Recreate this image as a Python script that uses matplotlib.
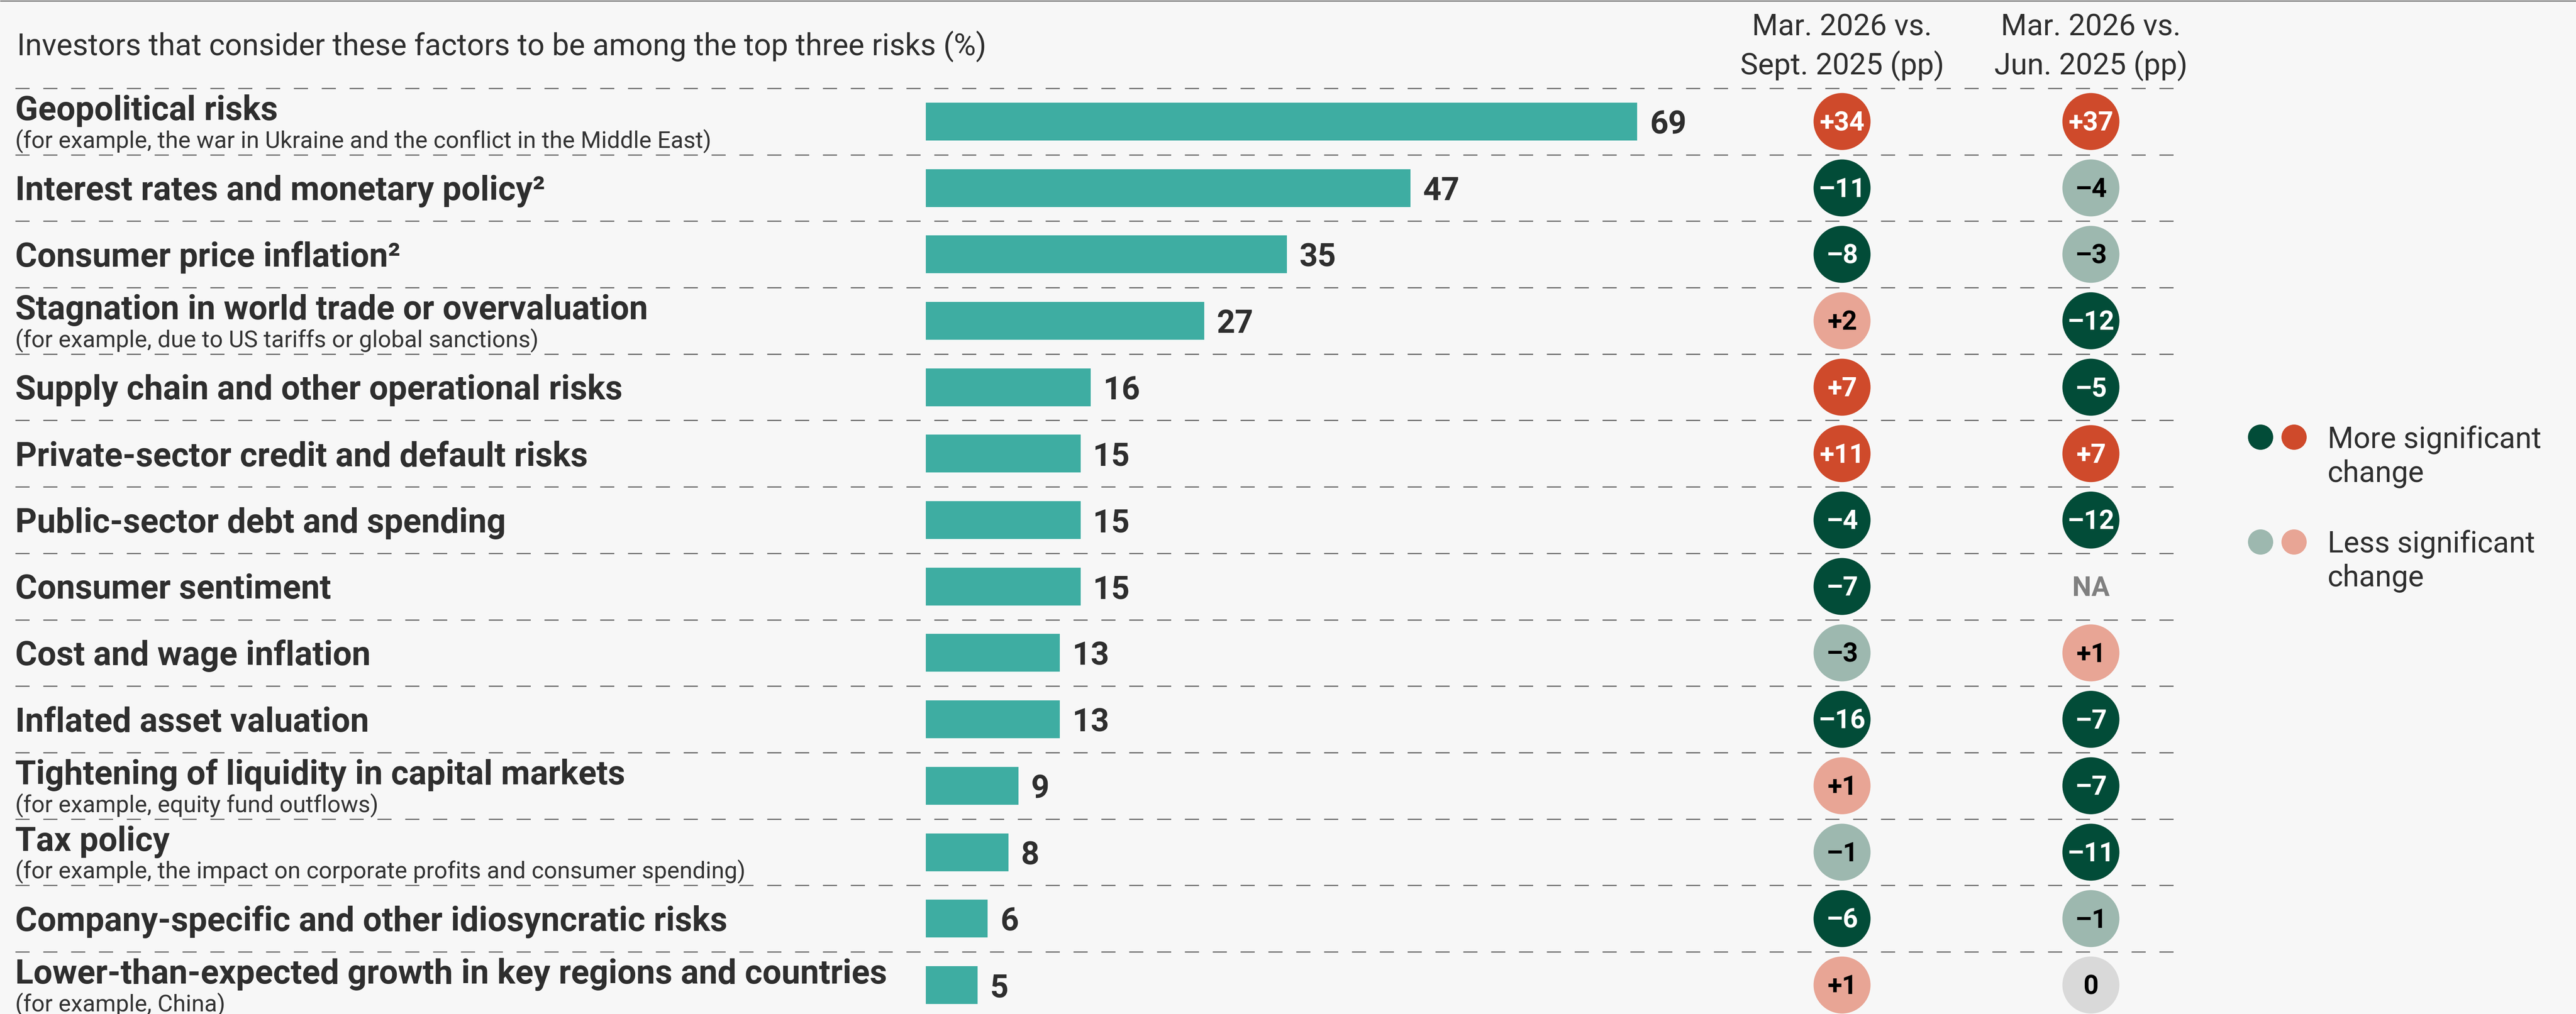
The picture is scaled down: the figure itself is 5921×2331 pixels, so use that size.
import numpy as np
import matplotlib
matplotlib.use("Agg")
import matplotlib.pyplot as plt
from matplotlib import font_manager as fm
from matplotlib.transforms import offset_copy

# ---------------- data ----------------
labels = [
    "Geopolitical risks",
    "Interest rates and monetary policy²",
    "Consumer price inflation²",
    "Stagnation in world trade or overvaluation",
    "Supply chain and other operational risks",
    "Private-sector credit and default risks",
    "Public-sector debt and spending",
    "Consumer sentiment",
    "Cost and wage inflation",
    "Inflated asset valuation",
    "Tightening of liquidity in capital markets",
    "Tax policy",
    "Company-specific and other idiosyncratic risks",
    "Lower-than-expected growth in key regions and countries",
]
sublabels = [
    "(for example, the war in Ukraine and the conflict in the Middle East)",
    "", "",
    "(for example, due to US tariffs or global sanctions)",
    "", "", "", "", "", "",
    "(for example, equity fund outflows)",
    "(for example, the impact on corporate profits and consumer spending)",
    "",
    "(for example, China)",
]
values = [69, 47, 35, 27, 16, 15, 15, 15, 13, 13, 9, 8, 6, 5]
chg_sept = [34, -11, -8, 2, 7, 11, -4, -7, -3, -16, 1, -1, -6, 1]
sig_sept = [True, True, True, False, True, True, True, True, False, True, False, False, True, False]
chg_jun = [37, -4, -3, -12, -5, 7, -12, None, 1, -7, -7, -11, -1, 0]
sig_jun = [True, False, False, True, True, True, True, None, False, True, True, True, False, False]

header = "Investors that consider these factors to be among the top three risks (%)"
col_heads = [("Mar. 2026 vs.", "Sept. 2025 (pp)"), ("Mar. 2026 vs.", "Jun. 2025 (pp)")]
legend_labels = [("More significant", "change"), ("Less significant", "change")]

# ---------------- style ----------------
W, H, DPI = 5921, 2331, 100
BG = "#F7F7F7"
TEAL = "#3EADA2"
DKGREEN = "#024C38"
RED = "#CF4A2B"
LTGREEN = "#9DB8AF"
SALMON = "#E8A595"
NEUTRAL = "#D9D9D9"
TXT = "#2E2E2E"

names = {f.name for f in fm.fontManager.ttflist}
FONT = "DejaVu Sans"
for cand in ["Roboto", "Liberation Sans", "Noto Sans"]:
    if cand in names:
        FONT = cand
        break
plt.rcParams["font.family"] = [FONT, "DejaVu Sans"]
plt.rcParams["lines.scale_dashes"] = False
LIGHT = "normal"

PT = 72.0 / DPI  # px -> pt
ROW0 = 279.3     # px centre of first row
RH = 152.7       # px row height
BAR_X0 = 2128
PX_PER_UNIT = 23.7
COL_X = [4234, 4806]
LBL_X = 35

fig = plt.figure(figsize=(W / DPI, H / DPI), dpi=DPI, facecolor=BG)
renderer = fig.canvas.get_renderer()


def fit_size(text, base, target_px, weight="normal"):
    t = fig.text(0, 0, text, fontsize=base, fontweight=weight)
    w = t.get_window_extent(renderer).width
    t.remove()
    r = target_px / w
    r = min(max(r, 0.8), 1.25)
    return base * r


HEADER_FS = fit_size(header, 50, 2232, LIGHT)
LABEL_FS = fit_size(labels[-1], 53, 2005, "bold")
SUB_FS = fit_size(sublabels[11], 40, 1678, LIGHT)
COLH_FS = fit_size(col_heads[0][1], 50, 469, LIGHT)
LEG_FS = fit_size(legend_labels[0][0], 51, 492, LIGHT)

ybot = (H - ROW0) / RH
ytop = -ROW0 / RH

ax_px = fig.add_axes([0, 0, 1, 1])
ax_px.set_xlim(0, W)
ax_px.set_ylim(H, 0)
ax_px.axis("off")

ax = fig.add_axes([0, 0, 1, 1])
ax.set_xlim(0, W)
ax.set_ylim(ybot, ytop)
ax.axis("off")

bar_w_units = 100
axb = fig.add_axes([BAR_X0 / W, 0, bar_w_units * PX_PER_UNIT / W, 1])
axb.set_xlim(0, bar_w_units)
axb.set_ylim(ybot, ytop)
axb.axis("off")
for a in (ax_px, ax, axb):
    a.patch.set_alpha(0)

n = len(labels)
rows = np.arange(n)

# top rule
ax_px.plot([0, W], [1.5, 1.5], color="#808080", lw=3 * PT, solid_capstyle="butt")

# header
ax_px.text(39, 127, header, fontsize=HEADER_FS, fontweight=LIGHT, color=TXT,
           ha="left", va="baseline")
for cx, (l1, l2) in zip(COL_X, col_heads):
    ax_px.text(cx, 82, l1, fontsize=COLH_FS, fontweight=LIGHT, color=TXT,
               ha="center", va="baseline")
    ax_px.text(cx, 170, l2, fontsize=COLH_FS, fontweight=LIGHT, color=TXT,
               ha="center", va="baseline")

# dashed separators
for i in range(n):
    ax.plot([35, 5025], [i - 0.5, i - 0.5], color="#666666", lw=2.7 * PT,
            dashes=(32.5 * PT, 31.5 * PT), solid_capstyle="butt", dash_capstyle="butt")

# labels
for i, (lab, sub) in enumerate(zip(labels, sublabels)):
    if sub:
        ax.text(LBL_X, i - 3 / RH, lab, fontsize=LABEL_FS, fontweight="bold", color=TXT,
                ha="left", va="baseline")
        ax.text(LBL_X, i + 60 / RH, sub, fontsize=SUB_FS, fontweight=LIGHT, color="#333333",
                ha="left", va="baseline")
    else:
        ax.text(LBL_X, i + 28 / RH, lab, fontsize=LABEL_FS, fontweight="bold", color=TXT,
                ha="left", va="baseline")

# bars
axb.barh(rows, values, height=87 / RH, color=TEAL, edgecolor="none")
val_tr = offset_copy(axb.transData, fig=fig, x=29, y=-28, units="dots")
for i, v in enumerate(values):
    axb.text(v, i, str(v), transform=val_tr, fontsize=53, fontweight="bold",
             color=TXT, ha="left", va="baseline", clip_on=False)

# circles
def circ_color(v, sig):
    if v == 0:
        return NEUTRAL
    if v > 0:
        return RED if sig else SALMON
    return DKGREEN if sig else LTGREEN


def fmt(v):
    if v > 0:
        return "+%d" % v
    if v < 0:
        return "\u2013%d" % abs(v)
    return "0"


CIRC_S = (131 * PT) ** 2
for cx, chg, sig in ((COL_X[0], chg_sept, sig_sept), (COL_X[1], chg_jun, sig_jun)):
    xs, ys, cs = [], [], []
    for i, (v, s) in enumerate(zip(chg, sig)):
        if v is None:
            ax.text(cx, i + 22 / RH, "NA", fontsize=45, fontweight="bold", color="#808080",
                    ha="center", va="baseline")
            continue
        xs.append(cx)
        ys.append(i)
        cs.append(circ_color(v, s))
        tc = "white" if (s and v != 0) else "black"
        ax.text(cx, i + 21 / RH, fmt(v), fontsize=44, fontweight="bold", color=tc,
                ha="center", va="baseline", zorder=5)
    ax.scatter(xs, ys, s=CIRC_S, c=cs, edgecolors="none", zorder=4)

# legend
LEG_S = (58 * PT) ** 2
ax_px.scatter([5196, 5273], [1005, 1005], s=LEG_S, c=[DKGREEN, RED], edgecolors="none")
ax_px.scatter([5196, 5273], [1246, 1246], s=LEG_S, c=[LTGREEN, SALMON], edgecolors="none")
for (l1, l2), yb in zip(legend_labels, (1029, 1269)):
    ax_px.text(5350, yb, l1, fontsize=LEG_FS, fontweight=LIGHT, color=TXT,
               ha="left", va="baseline")
    ax_px.text(5350, yb + 79, l2, fontsize=LEG_FS, fontweight=LIGHT, color=TXT,
               ha="left", va="baseline")

fig.savefig("out.png", dpi=DPI, facecolor=BG)
